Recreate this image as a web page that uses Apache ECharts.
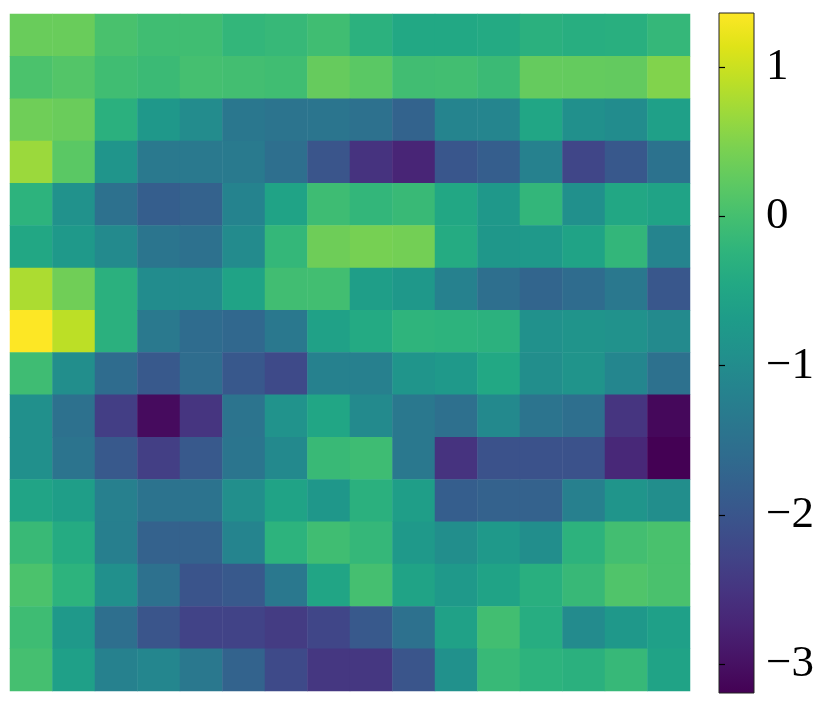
<!DOCTYPE html>
<html><head><meta charset="utf-8">
<script src="https://cdn.jsdelivr.net/npm/echarts@6/dist/echarts.min.js"></script>
<style>html,body{margin:0;padding:0;background:#fff}#c{width:831px;height:706px}</style>
</head><body><div id="c"></div>
<script>
const vMin = -3.19, vMax = 1.36;
const colorbarTicks = [-3, -2, -1, 0, 1];
const row00 = [0.31, 0.31, 0.04, -0.05, -0.05, -0.19, -0.15, -0.05, -0.28, -0.46, -0.46, -0.43, -0.30, -0.35, -0.33, -0.17];
const row01 = [0.06, 0.13, -0.05, -0.10, 0.00, -0.02, -0.05, 0.29, 0.19, -0.04, -0.03, -0.10, 0.28, 0.27, 0.26, 0.50];
const row02 = [0.36, 0.32, -0.30, -0.76, -1.01, -1.38, -1.45, -1.42, -1.50, -1.76, -1.15, -1.12, -0.50, -0.94, -1.00, -0.62];
const row03 = [0.68, 0.19, -0.83, -1.35, -1.35, -1.33, -1.54, -2.00, -2.52, -2.72, -1.99, -1.84, -1.20, -2.24, -1.95, -1.48];
const row04 = [-0.26, -0.90, -1.50, -1.84, -1.77, -1.16, -0.56, -0.07, -0.19, -0.12, -0.47, -0.78, -0.19, -0.93, -0.47, -0.56];
const row05 = [-0.47, -0.74, -1.03, -1.43, -1.50, -1.02, -0.18, 0.35, 0.42, 0.39, -0.40, -0.80, -0.74, -0.55, -0.19, -1.15];
const row06 = [0.79, 0.37, -0.30, -1.00, -1.00, -0.55, -0.04, -0.03, -0.65, -0.78, -1.20, -1.54, -1.72, -1.60, -1.37, -1.97];
const row07 = [1.36, 0.90, -0.30, -1.35, -1.60, -1.67, -1.37, -0.60, -0.43, -0.24, -0.26, -0.28, -0.92, -0.85, -0.90, -1.03];
const row08 = [-0.06, -0.96, -1.60, -1.93, -1.58, -1.95, -2.18, -1.20, -1.22, -0.83, -0.74, -0.46, -0.96, -0.85, -1.10, -1.50];
const row09 = [-0.93, -1.50, -2.36, -3.06, -2.50, -1.45, -0.88, -0.50, -1.03, -1.37, -1.53, -1.05, -1.45, -1.55, -2.50, -3.10];
const row10 = [-0.93, -1.45, -1.93, -2.35, -1.93, -1.42, -1.05, -0.12, -0.07, -1.37, -2.52, -2.05, -2.05, -2.05, -2.68, -3.19];
const row11 = [-0.53, -0.65, -1.22, -1.46, -1.46, -0.95, -0.56, -0.80, -0.30, -0.65, -1.84, -1.77, -1.77, -1.22, -0.83, -0.96];
const row12 = [-0.12, -0.40, -1.24, -1.77, -1.77, -1.15, -0.26, -0.05, -0.17, -0.74, -0.97, -0.74, -0.96, -0.27, -0.02, 0.04];
const row13 = [0.06, -0.26, -0.93, -1.50, -2.02, -1.93, -1.37, -0.52, 0.00, -0.56, -0.74, -0.56, -0.33, -0.14, 0.10, 0.05];
const row14 = [-0.07, -0.74, -1.55, -2.00, -2.29, -2.29, -2.40, -2.24, -1.93, -1.50, -0.60, -0.03, -0.37, -1.02, -0.77, -0.62];
const row15 = [0.00, -0.62, -1.20, -1.10, -1.37, -1.76, -2.18, -2.46, -2.46, -2.00, -0.92, -0.13, -0.26, -0.30, -0.15, -0.55];
const rows = [row00,row01,row02,row03,row04,row05,row06,row07,row08,row09,row10,row11,row12,row13,row14,row15];
const cols = Array.from({length: 16}, (_, i) => String(i));
const rowNames = Array.from({length: 16}, (_, i) => String(i));

const viridis = ['#440154','#471365','#482475','#463480','#414487','#3b528b','#355f8d','#2f6c8e','#2a788e','#25848e','#21918c','#1e9c89','#22a884','#2fb47c','#44bf70','#5ec962','#7ad151','#9bd93c','#bddf26','#dfe318','#fde725'];

const data = [];
rows.forEach((r, y) => r.forEach((v, x) => data.push([x, y, v])));

const chart = echarts.init(document.getElementById('c'), null, {renderer: 'canvas'});
const gradStops = viridis.slice().reverse().map((c, i) => ({offset: i / (viridis.length - 1), color: c}));
chart.setOption({
  animation: false,
  backgroundColor: '#fff',
  grid: [
    {left: 10, top: 14, width: 680, height: 677},
    {left: 719, top: 13, width: 35, height: 680, show: true, borderColor: '#222', borderWidth: 1,
     backgroundColor: new echarts.graphic.LinearGradient(0, 0, 0, 1, gradStops)}
  ],
  xAxis: [
    {type: 'category', data: cols, gridIndex: 0, show: false},
    {type: 'value', gridIndex: 1, show: false, min: 0, max: 1}
  ],
  yAxis: [
    {type: 'category', data: rowNames, gridIndex: 0, show: false, inverse: true},
    {type: 'value', gridIndex: 1, min: vMin, max: vMax, position: 'right',
     axisLine: {show: false}, splitLine: {show: false},
     axisTick: {show: true, length: 6, customValues: colorbarTicks, lineStyle: {color: '#000', width: 1.2}},
     axisLabel: {show: true, customValues: colorbarTicks, margin: 12, color: '#000',
       fontFamily: "'Liberation Serif', 'Times New Roman', serif", fontSize: 45,
       formatter: v => String(v).replace('-', '\u2212')}}
  ],
  visualMap: {show: false, min: vMin, max: vMax, dimension: 2, seriesIndex: 0, inRange: {color: viridis}},
  series: [
    {type: 'heatmap', xAxisIndex: 0, yAxisIndex: 0, data: data, itemStyle: {borderWidth: 0}, emphasis: {disabled: true}},
    {type: 'scatter', xAxisIndex: 1, yAxisIndex: 1, data: []}
  ]
});
</script></body></html>
